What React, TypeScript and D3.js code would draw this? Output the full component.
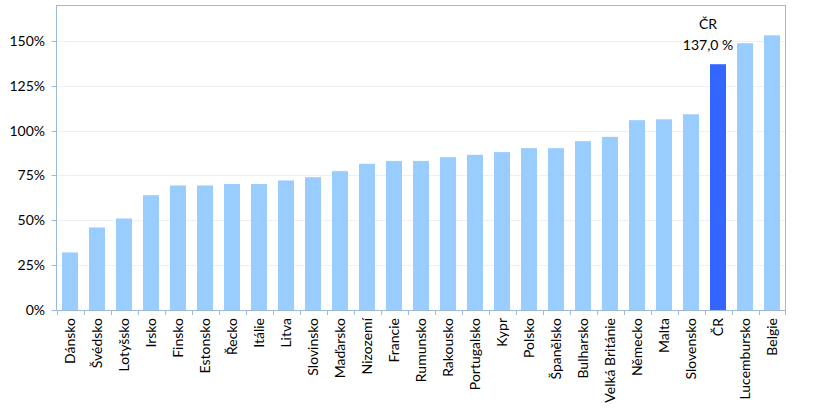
import React from "react";
import * as d3 from "d3";

const categories = [
  "Dánsko", "Švédsko", "Lotyšsko", "Irsko", "Finsko", "Estonsko", "Řecko", "Itálie", "Litva",
  "Slovinsko", "Maďarsko", "Nizozemí", "Francie", "Rumunsko", "Rakousko", "Portugalsko", "Kypr",
  "Polsko", "Španělsko", "Bulharsko", "Velká Británie", "Německo", "Malta", "Slovensko", "ČR",
  "Lucembursko", "Belgie",
];
const values = [
  32.1, 46.0, 51.0, 64.0, 69.4, 69.4, 70.2, 70.2, 72.2,
  74.0, 77.4, 81.5, 83.1, 83.1, 85.2, 86.5, 88.0,
  90.2, 90.2, 94.1, 96.5, 105.8, 106.3, 109.1, 137.0,
  148.7, 153.1,
];
const yTicks = [0, 25, 50, 75, 100, 125, 150];
const highlight = "ČR";
const highlightLabel = "137,0 %";

const W = 814;
const H = 413;
const left = 56.5;
const right = 785.5;
const top = 5;
const bottom = 310;
const font = "Lato, 'Open Sans', sans-serif";
const axisColor = "#9DB9D8";

export default function App() {
  const x = d3.scaleBand<string>().domain(categories).range([left, right]).padding(0);
  const y = d3.scaleLinear().domain([0, 170]).range([bottom, top]);
  const bw = x.bandwidth() * 0.593;
  const hi = categories.indexOf(highlight);
  const hx = (x(highlight) as number) + x.bandwidth() / 2 - 10;

  return (
    <svg width={W} height={H} style={{ position: "absolute", left: 0, top: 0, background: "#fff" }}
      fontFamily={font}>
      {yTicks.slice(1).map((t) => (
        <line key={"g" + t} x1={left} x2={right} y1={Math.round(y(t)) + 0.5} y2={Math.round(y(t)) + 0.5}
          stroke="#EAF0F6" strokeWidth={1} />
      ))}
      {categories.map((c, i) => (
        <rect key={c} x={(x(c) as number) + (x.bandwidth() - bw) / 2} y={y(values[i])}
          width={bw} height={bottom - y(values[i])}
          fill={i === hi ? "#3366FF" : "#99CCFF"} />
      ))}
      {/* frame */}
      <line x1={left} x2={right} y1={top + 0.5} y2={top + 0.5} stroke={axisColor} />
      <line x1={right} x2={right} y1={top} y2={bottom} stroke={axisColor} />
      <line x1={left} x2={left} y1={top} y2={bottom + 0.5} stroke={axisColor} />
      <line x1={left} x2={right} y1={bottom + 0.5} y2={bottom + 0.5} stroke={axisColor} />
      {yTicks.map((t) => (
        <g key={"y" + t}>
          <line x1={left - 5} x2={left} y1={Math.round(y(t)) + 0.5} y2={Math.round(y(t)) + 0.5} stroke={axisColor} />
          <text x={45} y={y(t)} dy="0.36em" textAnchor="end" fontSize={14} fill="#000">{t}%</text>
        </g>
      ))}
      {categories.map((c) => (
        <line key={"t" + c} x1={Math.round(x(c) as number) + 0.5} x2={Math.round(x(c) as number) + 0.5}
          y1={bottom} y2={bottom + 5} stroke={axisColor} />
      ))}
      <line x1={right} x2={right} y1={bottom} y2={bottom + 5} stroke={axisColor} />
      {categories.map((c) => {
        const cx = (x(c) as number) + x.bandwidth() / 2;
        return (
          <text key={"l" + c} transform={`translate(${cx + 5},318) rotate(-90)`} textAnchor="end"
            fontSize={14} fill="#000">{c}</text>
        );
      })}
      <text x={hx} y={29} textAnchor="middle" fontSize={14} fill="#000">{highlight}</text>
      <text x={hx} y={50} textAnchor="middle" fontSize={14} fill="#000">{highlightLabel}</text>
    </svg>
  );
}
